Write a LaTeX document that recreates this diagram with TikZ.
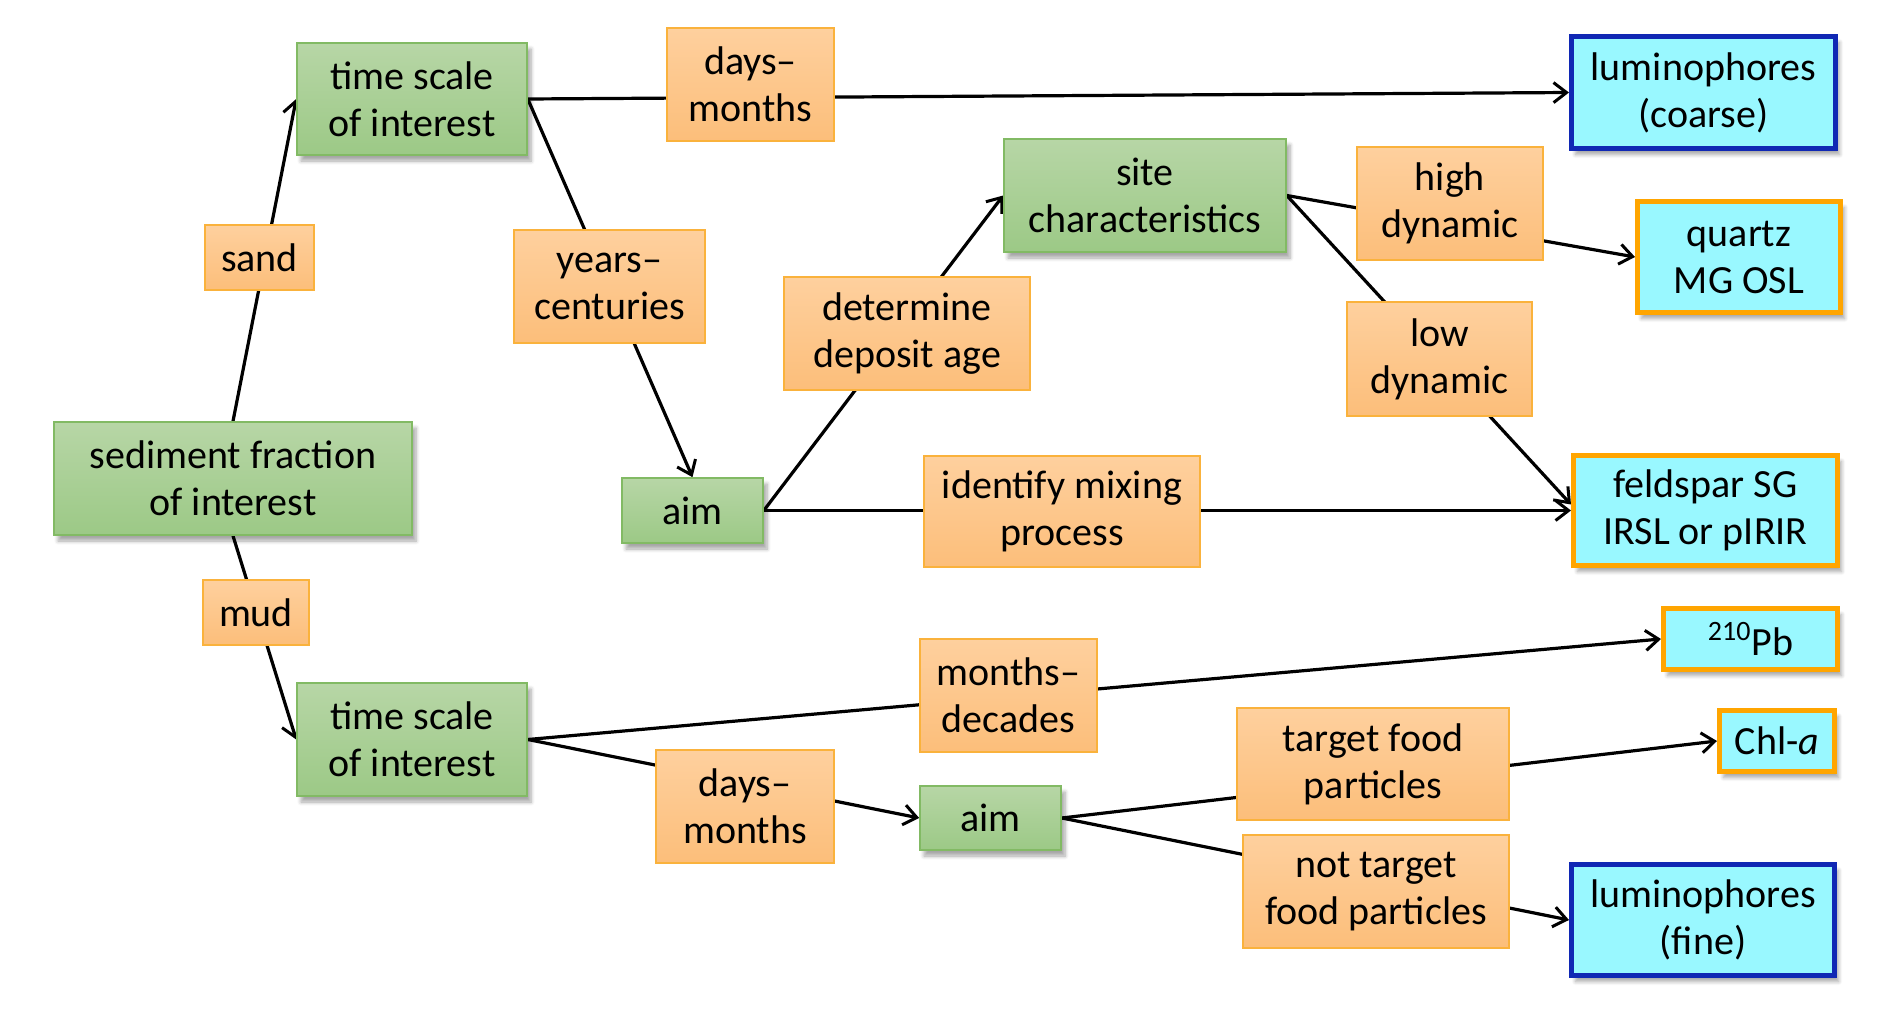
\documentclass[tikz,border=0pt]{standalone}
\usepackage{fontspec}
\setmainfont{Carlito}
\usetikzlibrary{arrows.meta,shadows.blur}
\pgfdeclarelayer{background}
\pgfsetlayers{background,main}
\definecolor{gtop}{RGB}{183,214,166}
\definecolor{gbot}{RGB}{156,201,134}
\definecolor{gline}{RGB}{130,186,100}
\definecolor{otop}{RGB}{254,208,158}
\definecolor{obot}{RGB}{252,190,122}
\definecolor{oline}{RGB}{250,178,60}
\definecolor{cfill}{RGB}{153,248,255}
\definecolor{bline}{RGB}{16,40,180}
\definecolor{tline}{RGB}{255,165,0}
\tikzset{
  box/.style={rectangle, inner sep=0pt, align=center, text=black,
    font=\fontsize{20}{23.5}\selectfont},
  gbox/.style={box, draw=gline, line width=0.8pt, top color=gtop, bottom color=gbot,
    blur shadow={shadow xshift=2pt, shadow yshift=-3pt, shadow blur steps=6, shadow opacity=35}},
  obox/.style={box, draw=oline, line width=0.8pt, top color=otop, bottom color=obot},
  cbbox/.style={box, draw=bline, line width=2.5pt, fill=cfill,
    blur shadow={shadow xshift=2pt, shadow yshift=-3pt, shadow blur steps=6, shadow opacity=35}},
  cobox/.style={box, draw=tline, line width=2.5pt, fill=cfill,
    blur shadow={shadow xshift=2pt, shadow yshift=-3pt, shadow blur steps=6, shadow opacity=35}},
  conn/.style={draw=black, line width=1.6pt},
  arr/.style={conn, -{Straight Barb[length=6.5pt,width=10pt,line width=1.5pt]}},
  sz/.style 2 args={minimum width=#1*0.5pt, minimum height=#2*0.5pt}
}
\begin{document}
\begin{tikzpicture}[x=0.5pt,y=-0.5pt]
\useasboundingbox (0,0) rectangle (1892,1011);
% green boxes
\node[gbox, sz={358}{113}] (sed) at (233,478.5) {sediment fraction\\of interest};
\node[gbox, sz={230}{112}] (ts1) at (412,99) {time scale\\of interest};
\node[gbox, sz={230}{113}] (ts2) at (412,739.5) {time scale\\of interest};
\node[gbox, sz={141}{65}] (aim1) at (692.5,510.5) {aim};
\node[gbox, sz={282}{113}] (site) at (1145,195.5) {site\\characteristics};
\node[gbox, sz={141}{64}] (aim2) at (990.5,818) {aim};
% orange label boxes
\node[obox, sz={109}{65}] (sand) at (259.5,257.5) {sand};
\node[obox, sz={106}{65}] (mud) at (256,612.5) {mud};
\node[obox, sz={167}{113}] (dm1) at (750.5,84.5) {days–\\months};
\node[obox, sz={191}{113}] (yc) at (609.5,286.5) {years–\\centuries};
\node[obox, sz={246}{113}] (det) at (907,333.5) {determine\\deposit age};
\node[obox, sz={276}{111}] (idm) at (1062,511.5) {identify mixing\\process};
\node[obox, sz={186}{113}] (high) at (1450,203.5) {high\\dynamic};
\node[obox, sz={185}{114}] (low) at (1439.5,359) {low\\dynamic};
\node[obox, sz={177}{113}] (md) at (1008.5,695.5) {months–\\decades};
\node[obox, sz={178}{113}] (dm2) at (745,806.5) {days–\\months};
\node[obox, sz={272}{112}] (tf) at (1373,764) {target food\\particles};
\node[obox, sz={266}{113}] (ntf) at (1376,891.5) {not target\\food particles};
% cyan result boxes
\node[cbbox, sz={264}{112}] (lumc) at (1703.5,92.5) {luminophores\\(coarse)};
\node[cobox, sz={203}{111}] (qz) at (1739,257) {quartz\\MG OSL};
\node[cobox, sz={264}{110}] (fs) at (1705.5,510.5) {feldspar SG\\IRSL or pIRIR};
\node[cobox, sz={174}{61}] (pb) at (1750.5,639) {\textsuperscript{210}Pb};
\node[cobox, sz={115}{61}] (chl) at (1777,741) {Chl-\textit{a}};
\node[cbbox, sz={263}{111}] (lumf) at (1703,920) {luminophores\\(fine)};
% connectors
\begin{pgfonlayer}{background}
\draw[arr] (sed.north) -- (ts1.west);
\draw[arr] (sed.south) -- (ts2.west);
\draw[arr] (ts1.east) -- (lumc.west);
\draw[arr] (ts1.east) -- (aim1.north);
\draw[arr] (aim1.east) -- (site.west);
\draw[arr] (aim1.east) -- (fs.west);
\draw[arr] (site.east) -- (qz.west);
\draw[arr] (site.east) -- ([yshift=3pt]fs.west);
\draw[arr] (ts2.east) -- (pb.west);
\draw[arr] (ts2.east) -- (aim2.west);
\draw[arr] (aim2.east) -- (chl.west);
\draw[arr] (aim2.east) -- (lumf.west);
\end{pgfonlayer}
\end{tikzpicture}
\end{document}
